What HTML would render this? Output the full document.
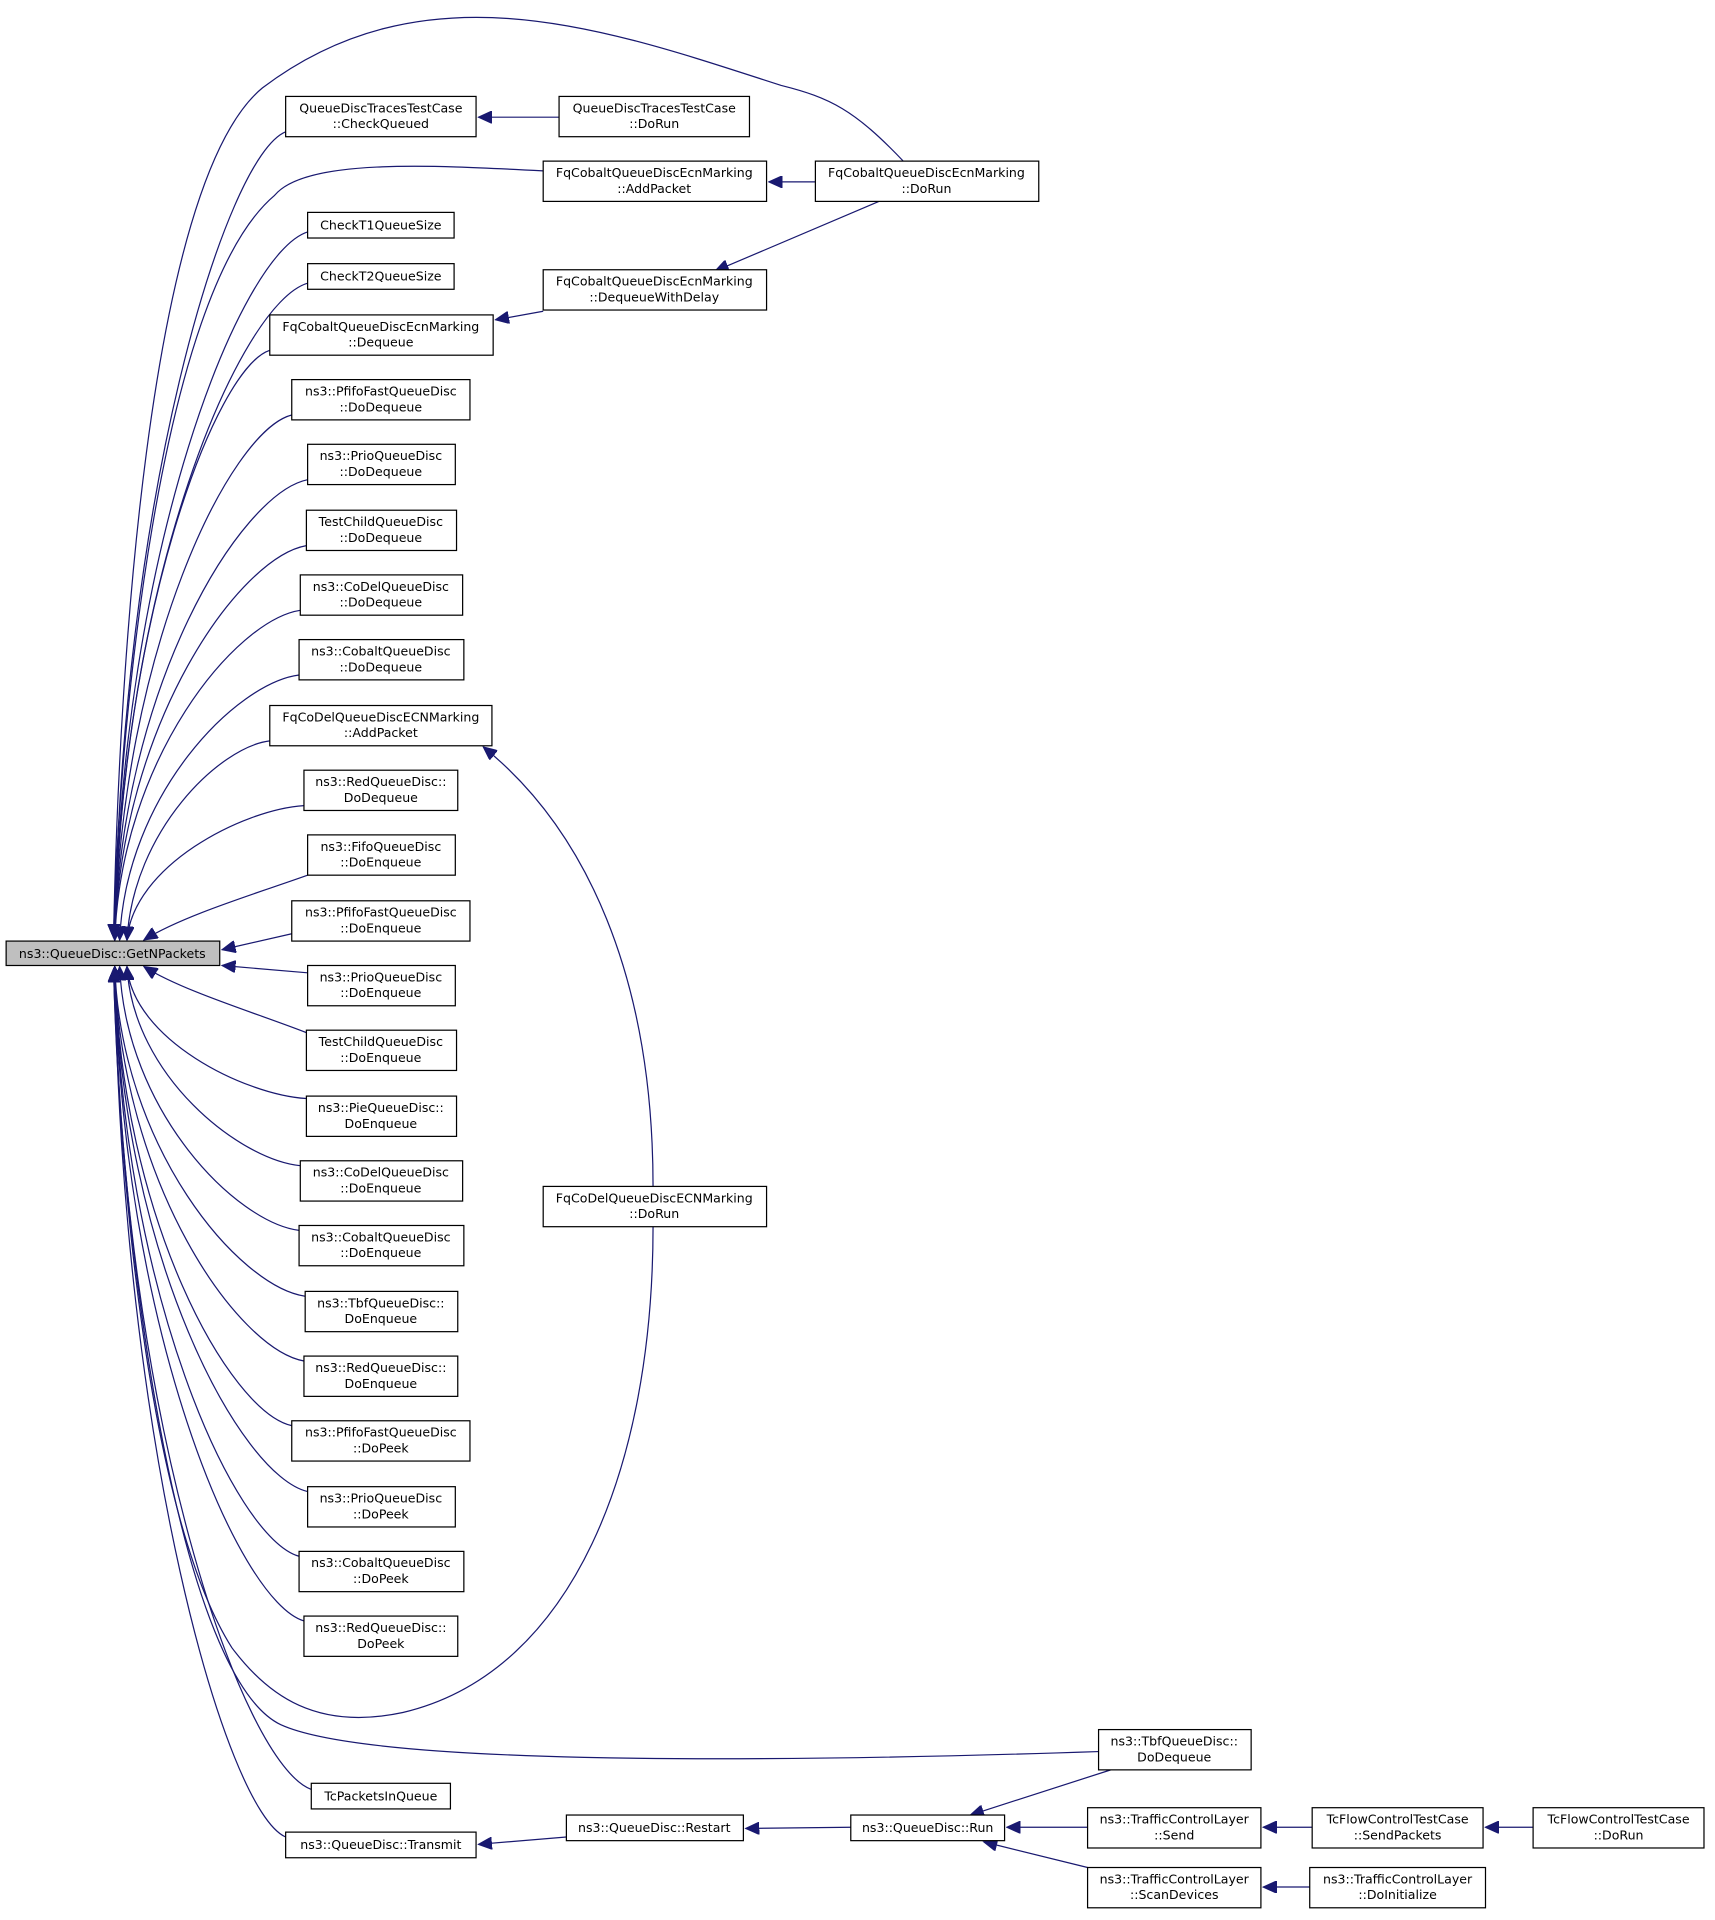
<!DOCTYPE html>
<html><head><meta charset="utf-8"><style>
html,body{margin:0;padding:0;background:#fff;}
svg{display:block;}
text{font-family:"DejaVu Sans","Liberation Sans",sans-serif;font-size:10.3px;fill:#000;text-anchor:middle;}
rect{fill:#fff;stroke:#000;stroke-width:1;}
.e{fill:none;stroke:#191970;stroke-width:1;}
</style></head><body>
<svg id="g" width="1715" height="1920" viewBox="0 0 1405 1573" xmlns="http://www.w3.org/2000/svg">
<defs><marker id="a" markerUnits="userSpaceOnUse" markerWidth="12" markerHeight="10" refX="11" refY="5" orient="auto"><path d="M0,0 L11,5 L0,10 z" fill="#191970" stroke="#191970"/></marker></defs>
<g id="edges">
<path class="e" marker-end="url(#a)" d="M740,132 C700,90 680,80 640,70 C500,25 350,-30 215,72 C120,150 97,560 93,768"/>
<path class="e" marker-end="url(#a)" d="M445,140 C350,135 250,130 225,160 C130,240 97,600 93,768"/>
<path class="e" marker-end="url(#a)" d="M535,1005 C535,1200 470,1370 330,1403 C260,1418 220,1390 190,1350 C120,1240 97,950 93,794"/>
<path class="e" marker-end="url(#a)" d="M900,1435 C600,1445 300,1445 230,1413 C150,1375 100,1050 93,794"/>
<path class="e" marker-end="url(#a)" d="M458,96 L392,96"/>
<path class="e" marker-end="url(#a)" d="M668,149 L630,149"/>
<path class="e" marker-end="url(#a)" d="M720,165 L586,222"/>
<path class="e" marker-end="url(#a)" d="M445,255 L406,262"/>
<path class="e" marker-end="url(#a)" d="M535,972 C535,800 480,680 396,612"/>
<path class="e" marker-end="url(#a)" d="M910,1450 L795,1487"/>
<path class="e" marker-end="url(#a)" d="M891,1497 L825,1497"/>
<path class="e" marker-end="url(#a)" d="M891,1530 L806,1509"/>
<path class="e" marker-end="url(#a)" d="M697,1497 L611,1498"/>
<path class="e" marker-end="url(#a)" d="M464,1505 L392,1511"/>
<path class="e" marker-end="url(#a)" d="M1075,1497 L1035,1497"/>
<path class="e" marker-end="url(#a)" d="M1256,1497 L1217,1497"/>
<path class="e" marker-end="url(#a)" d="M1073,1546 L1035,1546"/>
</g>
<rect x="5" y="771" width="175" height="20" style="fill:#bfbfbf"/><text x="92" y="785">ns3::QueueDisc::GetNPackets</text>
<g>
<rect x="458" y="79" width="156" height="33"/><text x="536" y="92">QueueDiscTracesTestCase</text><text x="536" y="105">::DoRun</text>
<rect x="445" y="132" width="183" height="33"/><text x="536" y="145">FqCobaltQueueDiscEcnMarking</text><text x="536" y="158">::AddPacket</text>
<rect x="445" y="221" width="183" height="33"/><text x="536" y="234">FqCobaltQueueDiscEcnMarking</text><text x="536" y="247">::DequeueWithDelay</text>
<rect x="445" y="972" width="183" height="33"/><text x="536" y="985">FqCoDelQueueDiscECNMarking</text><text x="536" y="998">::DoRun</text>
<rect x="464" y="1487" width="145" height="21"/><text x="536" y="1501">ns3::QueueDisc::Restart</text>
<rect x="668" y="132" width="183" height="33"/><text x="759" y="145">FqCobaltQueueDiscEcnMarking</text><text x="759" y="158">::DoRun</text>
<rect x="697" y="1487" width="126" height="21"/><text x="760" y="1501">ns3::QueueDisc::Run</text>
<rect x="900" y="1417" width="125" height="33"/><text x="962" y="1430">ns3::TbfQueueDisc::</text><text x="962" y="1443">DoDequeue</text>
<rect x="891" y="1481" width="142" height="33"/><text x="962" y="1494">ns3::TrafficControlLayer</text><text x="962" y="1507">::Send</text>
<rect x="891" y="1530" width="142" height="33"/><text x="962" y="1543">ns3::TrafficControlLayer</text><text x="962" y="1556">::ScanDevices</text>
<rect x="1075" y="1481" width="140" height="33"/><text x="1145" y="1494">TcFlowControlTestCase</text><text x="1145" y="1507">::SendPackets</text>
<rect x="1073" y="1530" width="144" height="33"/><text x="1145" y="1543">ns3::TrafficControlLayer</text><text x="1145" y="1556">::DoInitialize</text>
<rect x="1256" y="1481" width="140" height="33"/><text x="1326" y="1494">TcFlowControlTestCase</text><text x="1326" y="1507">::DoRun</text>

<rect x="234" y="79" width="156" height="33"/><text x="312" y="92">QueueDiscTracesTestCase</text><text x="312" y="105">::CheckQueued</text>
<rect x="252" y="174" width="120" height="21"/><text x="312" y="188">CheckT1QueueSize</text>
<rect x="252" y="216" width="120" height="21"/><text x="312" y="230">CheckT2QueueSize</text>
<rect x="221" y="258" width="183" height="33"/><text x="312" y="271">FqCobaltQueueDiscEcnMarking</text><text x="312" y="284">::Dequeue</text>
<rect x="239" y="311" width="146" height="33"/><text x="312" y="324">ns3::PfifoFastQueueDisc</text><text x="312" y="337">::DoDequeue</text>
<rect x="252" y="364" width="121" height="33"/><text x="312" y="377">ns3::PrioQueueDisc</text><text x="312" y="390">::DoDequeue</text>
<rect x="251" y="418" width="123" height="33"/><text x="312" y="431">TestChildQueueDisc</text><text x="312" y="444">::DoDequeue</text>
<rect x="246" y="471" width="133" height="33"/><text x="312" y="484">ns3::CoDelQueueDisc</text><text x="312" y="497">::DoDequeue</text>
<rect x="245" y="524" width="135" height="33"/><text x="312" y="537">ns3::CobaltQueueDisc</text><text x="312" y="550">::DoDequeue</text>
<rect x="221" y="578" width="182" height="33"/><text x="312" y="591">FqCoDelQueueDiscECNMarking</text><text x="312" y="604">::AddPacket</text>
<rect x="249" y="631" width="126" height="33"/><text x="312" y="644">ns3::RedQueueDisc::</text><text x="312" y="657">DoDequeue</text>
<rect x="252" y="684" width="121" height="33"/><text x="312" y="697">ns3::FifoQueueDisc</text><text x="312" y="710">::DoEnqueue</text>
<rect x="239" y="738" width="146" height="33"/><text x="312" y="751">ns3::PfifoFastQueueDisc</text><text x="312" y="764">::DoEnqueue</text>
<rect x="252" y="791" width="121" height="33"/><text x="312" y="804">ns3::PrioQueueDisc</text><text x="312" y="817">::DoEnqueue</text>
<rect x="251" y="844" width="123" height="33"/><text x="312" y="857">TestChildQueueDisc</text><text x="312" y="870">::DoEnqueue</text>
<rect x="251" y="898" width="123" height="33"/><text x="312" y="911">ns3::PieQueueDisc::</text><text x="312" y="924">DoEnqueue</text>
<rect x="246" y="951" width="133" height="33"/><text x="312" y="964">ns3::CoDelQueueDisc</text><text x="312" y="977">::DoEnqueue</text>
<rect x="245" y="1004" width="135" height="33"/><text x="312" y="1017">ns3::CobaltQueueDisc</text><text x="312" y="1030">::DoEnqueue</text>
<rect x="250" y="1058" width="125" height="33"/><text x="312" y="1071">ns3::TbfQueueDisc::</text><text x="312" y="1084">DoEnqueue</text>
<rect x="249" y="1111" width="126" height="33"/><text x="312" y="1124">ns3::RedQueueDisc::</text><text x="312" y="1137">DoEnqueue</text>
<rect x="239" y="1164" width="146" height="33"/><text x="312" y="1177">ns3::PfifoFastQueueDisc</text><text x="312" y="1190">::DoPeek</text>
<rect x="252" y="1218" width="121" height="33"/><text x="312" y="1231">ns3::PrioQueueDisc</text><text x="312" y="1244">::DoPeek</text>
<rect x="245" y="1271" width="135" height="33"/><text x="312" y="1284">ns3::CobaltQueueDisc</text><text x="312" y="1297">::DoPeek</text>
<rect x="249" y="1324" width="126" height="33"/><text x="312" y="1337">ns3::RedQueueDisc::</text><text x="312" y="1350">DoPeek</text>
<rect x="255" y="1461" width="114" height="21"/><text x="312" y="1475">TcPacketsInQueue</text>
<rect x="234" y="1501" width="156" height="21"/><text x="312" y="1515">ns3::QueueDisc::Transmit</text>
</g>
<script>
(function(){
var ns="http://www.w3.org/2000/svg",g=document.getElementById("edges");
var L=[[234,108],[252,190],[252,232],[221,287],[239,340],[252,393],[251,447],[246,500],[245,553],[221,607],[249,660],[252,717],[239,765],
[252,797],[251,846],[251,900],[246,955],[245,1008],[250,1062],[249,1115],[239,1168],[252,1222],[245,1275],[249,1328],[255,1466],[234,1505]];
L.forEach(function(p){
 var sx=p[0],sy=p[1],d,ex,ey;
 if(sy<771){
  ex=(sy>700?118:(sy>600?104:(sy>500?98:94)));ey=770;
  if(sy>=764){d="M"+sx+","+sy+" L182,778";}
  else if(sy>700){d="M"+sx+","+sy+" C210,732 150,750 "+ex+","+ey;}
  else d="M"+sx+","+sy+" C"+(sx-(sx-ex)*0.35)+","+(sy+(ey-sy)*0.03)+" "+(ex+5)+","+(sy+(ey-sy)*0.45)+" "+ex+","+ey;
 } else {
  ex=(sy<860?118:(sy<960?104:(sy<1060?98:94)));ey=792;
  if(sy<=800){d="M"+sx+","+sy+" L182,791";}
  else if(sy<860){d="M"+sx+","+sy+" C210,830 150,812 "+ex+","+ey;}
  else d="M"+sx+","+sy+" C"+(sx-(sx-ex)*0.35)+","+(sy-(sy-ey)*0.03)+" "+(ex+5)+","+(sy+(ey-sy)*0.45)+" "+ex+","+ey;
 }
 var e=document.createElementNS(ns,"path");e.setAttribute("class","e");e.setAttribute("d",d);e.setAttribute("marker-end","url(#a)");g.appendChild(e);
});
})();
</script>
</svg>
</body></html>
